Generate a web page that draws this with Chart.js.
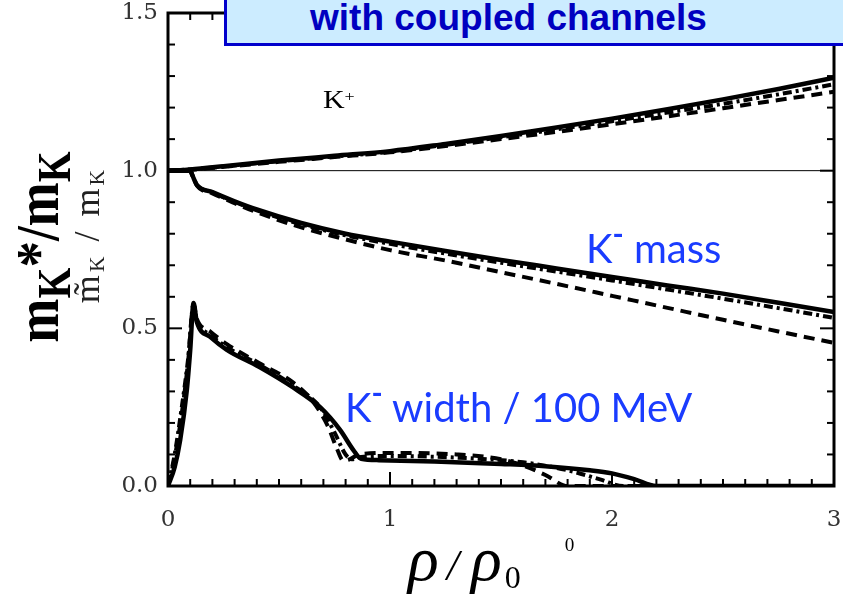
<!DOCTYPE html>
<html>
<head>
<meta charset="utf-8">
<script src="https://cdn.jsdelivr.net/npm/chart.js@4"></script>
<style>
  html, body { margin: 0; padding: 0; background: #fff; }
  #wrap { position: relative; width: 843px; height: 598px; overflow: hidden; }
  #chart { position: absolute; left: 0; top: 0; }
  .note { position: absolute; white-space: nowrap; line-height: 1; }
  .note sup { font-size: 0.8em; vertical-align: 0; position: relative; }
  #title-box {
    position: absolute; left: 224px; top: -10px; width: 640px; height: 56px;
    box-sizing: border-box; border: 3px solid #0000cc; background: #ccecff;
  }
  #title-text { left: 310px; top: -3px; font: bold 37px "Liberation Sans", Arial, sans-serif; color: #0000c0; }
  .blue { font-family: Lato, "Open Sans", sans-serif; font-size: 40px; color: #1a3cff; }
  .blue sup { top: -0.6em; font-weight: bold; font-size: 0.75em; }
  #kplus { left: 323px; top: 87px; font-family: "Liberation Serif", serif; font-size: 26px; color: #000; transform: scaleX(1.15); transform-origin: left center; }
  #kplus sup { top: -0.45em; font-size: 0.6em; }
  .rot { position: absolute; white-space: nowrap; line-height: 1; transform-origin: center center; }
  #ytitle-big { left: 42px; top: 247px; font: bold 53px "Liberation Serif", serif; transform: translate(-50%, -50%) rotate(-90deg) scale(1, 1.15); }
  #ytitle-big sub { font-size: 0.75em; vertical-align: -0.25em; }
  #ytitle-small { left: 88px; top: 235px; font: 36px "Liberation Serif", serif; letter-spacing: 3px; color: #222; transform: translate(-50%, -50%) rotate(-90deg); }
  #ytitle-small sub { font-size: 0.6em; vertical-align: -0.2em; }
  #xtitle { left: 408px; top: 522px; font: 64px "Liberation Serif", serif; }
  #xtitle i { font-style: italic; }
  #xtitle .slash { font-size: 44px; font-style: italic; margin: 0 12px 0 8px; }
  #xtitle sub { font-size: 0.5em; vertical-align: -0.25em; margin-left: 3px; }
  #xtitle sup { font-size: 0.3em; top: -1.5em; margin-left: 44px; }
</style>
</head>
<body>
<div id="wrap">
  <canvas id="chart" width="843" height="598"></canvas>
  <div id="title-box"></div>
  <div class="note" id="title-text">with coupled channels</div>
  <div class="note" id="kplus">K<sup>+</sup></div>
  <div class="note blue" style="left:586px; top:228px;">K<sup>-</sup> mass</div>
  <div class="note blue" style="left:345px; top:387px;">K<sup>-</sup> width / 100 MeV</div>
  <div class="rot" id="ytitle-big">m<sub>K</sub>*/m<sub>K</sub></div>
  <div class="rot" id="ytitle-small">m&#771;<sub>K</sub> / m<sub>K</sub></div>
  <div class="note" id="xtitle"><i>ρ</i><span class="slash">/</span><i>ρ</i><sub>0</sub><sup>0</sup></div>
</div>
<script>
const xTicks = [0, 1, 2, 3];
const yTicks = [0, 0.5, 1.0, 1.5];

const refLineX = [0, 3];
const refLineY = [1, 1];

// K+ mass ratio
const kPlusX = [0, 0.1, 0.25, 0.5, 0.75, 1, 1.25, 1.5, 1.75, 2, 2.25, 2.5, 2.75, 3];
const kPlusSolid = [1.0, 1.004, 1.014, 1.032, 1.047, 1.062, 1.085, 1.11, 1.137, 1.165, 1.195, 1.226, 1.259, 1.295];
const kPlusDashDot = [1.0, 1.004, 1.013, 1.030, 1.045, 1.060, 1.082, 1.106, 1.131, 1.157, 1.184, 1.212, 1.242, 1.274];
const kPlusDashed = [1.0, 1.003, 1.012, 1.028, 1.043, 1.058, 1.078, 1.10, 1.123, 1.147, 1.172, 1.198, 1.224, 1.25];

// K- mass ratio
const massX = [0, 0.1, 0.11, 0.13, 0.2, 0.3, 0.4, 0.6, 0.8, 1.0, 1.25, 1.5, 1.75, 2, 2.25, 2.5, 2.75, 3];
const massSolid = [1.0, 1.0, 0.985, 0.955, 0.932, 0.903, 0.877, 0.834, 0.80, 0.775, 0.745, 0.717, 0.69, 0.663, 0.636, 0.61, 0.581, 0.552];
const massDashDot = [1.0, 1.0, 0.985, 0.955, 0.931, 0.901, 0.874, 0.830, 0.795, 0.768, 0.737, 0.708, 0.68, 0.652, 0.623, 0.594, 0.564, 0.533];
const massDashed = [1.0, 1.0, 0.985, 0.953, 0.928, 0.897, 0.868, 0.82, 0.782, 0.748, 0.715, 0.678, 0.641, 0.603, 0.565, 0.527, 0.49, 0.454];

// K- width / 100 MeV
const widthSolidX = [0, 0.03, 0.055, 0.085, 0.1, 0.115, 0.13, 0.19, 0.265, 0.41, 0.56, 0.685, 0.775, 0.835, 0.87, 0.95, 1.2, 1.5, 1.7, 1.9, 2.0, 2.1, 2.2, 3];
const widthSolid = [0, 0.06, 0.146, 0.305, 0.43, 0.58, 0.52, 0.473, 0.432, 0.378, 0.314, 0.25, 0.178, 0.114, 0.086, 0.082, 0.078, 0.07, 0.063, 0.05, 0.04, 0.022, 0, 0];
const widthDashDotX = [0, 0.03, 0.06, 0.09, 0.115, 0.13, 0.19, 0.265, 0.41, 0.56, 0.685, 0.75, 0.8, 0.83, 0.87, 1.0, 1.3, 1.6, 1.8, 1.95, 2.05, 3];
const widthDashDot = [0, 0.1, 0.24, 0.4, 0.575, 0.525, 0.48, 0.44, 0.385, 0.32, 0.25, 0.17, 0.1, 0.085, 0.092, 0.095, 0.09, 0.075, 0.05, 0.02, 0, 0];
const widthDashedX = [0, 0.03, 0.06, 0.09, 0.115, 0.13, 0.19, 0.265, 0.41, 0.56, 0.65, 0.72, 0.76, 0.79, 0.82, 0.86, 1.0, 1.3, 1.5, 1.6, 1.7, 1.8, 3];
const widthDashed = [0, 0.09, 0.22, 0.39, 0.575, 0.53, 0.49, 0.45, 0.39, 0.33, 0.27, 0.19, 0.12, 0.08, 0.085, 0.1, 0.105, 0.1, 0.085, 0.065, 0.035, 0, 0];

const dashes = { solid: [], dashDot: [9, 4, 3, 4], dashed: [11, 7] };

const points = (xs, ys) => xs.map((x, i) => ({ x, y: ys[i] }));

function curve(xs, ys, style) {
  return {
    data: points(xs, ys),
    borderColor: '#000',
    borderWidth: style === 'solid' ? 4.5 : 4,
    borderDash: dashes[style],
    pointRadius: 0,
    cubicInterpolationMode: 'monotone',
    fill: false,
  };
}

// the reference has no room around the frame, so drop the label overflow padding
function noOverflow(scale) {
  scale.paddingTop = 0;
  scale.paddingBottom = 0;
  scale.paddingLeft = 0;
  scale.paddingRight = 0;
}

const frame = {
  id: 'frame',
  afterDatasetsDraw(chart) {
    const { ctx, chartArea: a, scales: { x, y } } = chart;
    const seg = (x1, y1, x2, y2) => {
      ctx.beginPath();
      ctx.moveTo(x1, y1);
      ctx.lineTo(x2, y2);
      ctx.stroke();
    };

    ctx.save();
    ctx.strokeStyle = '#000';
    ctx.lineWidth = 2;
    for (let i = 0; i <= 30; i++) {
      const px = x.getPixelForValue(i / 10);
      const len = i % 10 === 0 ? 14 : 7;
      seg(px, a.bottom, px, a.bottom - len);
      seg(px, a.top, px, a.top + len);
    }
    for (let i = 0; i <= 15; i++) {
      const py = y.getPixelForValue(i / 10);
      const len = i % 5 === 0 ? 14 : 7;
      seg(a.left, py, a.left + len, py);
      seg(a.right, py, a.right - len, py);
    }
    ctx.lineWidth = 3;
    ctx.strokeRect(a.left, a.top, a.right - a.left, a.bottom - a.top);
    ctx.restore();
  },
};

new Chart(document.getElementById('chart'), {
  type: 'line',
  data: {
    datasets: [
      curve(kPlusX, kPlusSolid, 'solid'),
      curve(massX, massSolid, 'solid'),
      curve(widthSolidX, widthSolid, 'solid'),
      curve(kPlusX, kPlusDashDot, 'dashDot'),
      curve(massX, massDashDot, 'dashDot'),
      curve(widthDashDotX, widthDashDot, 'dashDot'),
      curve(kPlusX, kPlusDashed, 'dashed'),
      curve(massX, massDashed, 'dashed'),
      curve(widthDashedX, widthDashed, 'dashed'),
      { data: points(refLineX, refLineY), borderColor: '#000', borderWidth: 1, pointRadius: 0 },
    ],
  },
  options: {
    responsive: false,
    devicePixelRatio: 1,
    animation: false,
    layout: { padding: { top: 13, right: 9, left: 0, bottom: 0 } },
    plugins: { legend: { display: false }, tooltip: { enabled: false } },
    scales: {
      x: {
        type: 'linear',
        min: 0,
        max: 3,
        grid: { display: false, drawTicks: false },
        border: { display: false },
        afterBuildTicks: scale => { scale.ticks = xTicks.map(value => ({ value })); },
        afterFit: scale => { scale.height = 112; noOverflow(scale); },
        ticks: {
          padding: 20,
          color: '#333',
          font: { family: 'DejaVu Serif', size: 23 },
          callback: value => String(value),
        },
      },
      y: {
        min: 0,
        max: 1.5,
        grid: { display: false, drawTicks: false },
        border: { display: false },
        afterBuildTicks: scale => { scale.ticks = yTicks.map(value => ({ value })); },
        afterFit: scale => { scale.width = 168; noOverflow(scale); },
        ticks: {
          padding: 10,
          color: '#333',
          font: { family: 'DejaVu Serif', size: 23 },
          callback: value => value.toFixed(1),
        },
      },
    },
  },
  plugins: [frame],
});
</script>
</body>
</html>
